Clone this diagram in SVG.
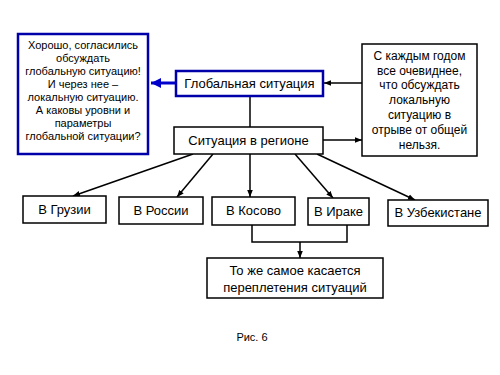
<svg xmlns="http://www.w3.org/2000/svg" width="500" height="375" viewBox="0 0 500 375">
<defs>
<marker id="ah" viewBox="0 0 10 10" refX="10" refY="5" markerWidth="7" markerHeight="7" markerUnits="userSpaceOnUse" orient="auto"><path d="M0,1 L10,5 L0,9 z" fill="#000"/></marker>
<marker id="ahb" viewBox="0 0 10 10" refX="10" refY="5" markerWidth="10" markerHeight="10" markerUnits="userSpaceOnUse" orient="auto"><path d="M0,0 L10,5 L0,10 z" fill="#0000cc"/></marker>
<style>
text{font-family:"Liberation Sans",Arial,sans-serif;fill:#000;text-anchor:middle}
.box{fill:#fff;stroke:#000;stroke-width:1.5}
.bbox{fill:#fff;stroke:#0000aa;stroke-width:2.5}
.c{stroke:#000;stroke-width:1.5;fill:none}
.m{font-size:13px}
.s{font-size:11px}
.r{font-size:12px}
</style>
</defs>
<rect width="500" height="375" fill="#fff"/>
<g id="connectors">
<line class="c" x1="250" y1="96" x2="250" y2="127"/>
<line x1="176" y1="83" x2="151" y2="83" stroke="#0000cc" stroke-width="3" marker-end="url(#ahb)"/>
<line class="c" x1="362" y1="83" x2="324" y2="83" marker-end="url(#ah)"/>
<line class="c" x1="323" y1="140" x2="362" y2="140" marker-end="url(#ah)"/>
<line class="c" x1="193" y1="154" x2="73" y2="196" marker-end="url(#ah)"/>
<line class="c" x1="213" y1="154" x2="177" y2="197" marker-end="url(#ah)"/>
<line class="c" x1="250" y1="154" x2="250" y2="197" marker-end="url(#ah)"/>
<line class="c" x1="295" y1="154" x2="333" y2="198" marker-end="url(#ah)"/>
<line class="c" x1="317" y1="154" x2="415" y2="200" marker-end="url(#ah)"/>
<polyline class="c" points="252,225 252,242 347,242 347,225" stroke-width="2"/>
<line class="c" x1="300" y1="242" x2="300" y2="258" marker-end="url(#ah)"/>
</g>
<g id="n-left">
<rect class="bbox" x="18" y="34" width="130" height="120"/>
<text class="s"><tspan x="83" y="49">Хорошо, согласились</tspan><tspan x="83" y="62">обсуждать</tspan><tspan x="83" y="75">глобальную ситуацию!</tspan><tspan x="83" y="88">И через нее –</tspan><tspan x="83" y="101">локальную ситуацию.</tspan><tspan x="83" y="114">А каковы уровни и</tspan><tspan x="83" y="127">параметры</tspan><tspan x="83" y="140">глобальной ситуации?</tspan></text>
</g>
<g id="n-global">
<rect class="bbox" x="176" y="71" width="147" height="25"/>
<text class="m" x="249.5" y="88">Глобальная ситуация</text>
</g>
<g id="n-right">
<rect class="box" x="362" y="44" width="115" height="112"/>
<text class="r"><tspan x="419.5" y="60">С каждым годом</tspan><tspan x="419.5" y="75">все очевиднее,</tspan><tspan x="419.5" y="89">что обсуждать</tspan><tspan x="419.5" y="104">локальную</tspan><tspan x="419.5" y="119">ситуацию в</tspan><tspan x="419.5" y="134">отрыве от общей</tspan><tspan x="419.5" y="149">нельзя.</tspan></text>
</g>
<g id="n-region">
<rect class="box" x="174" y="127" width="149" height="27"/>
<text class="m" x="248.5" y="145">Ситуация в регионе</text>
</g>
<g id="n-georgia">
<rect class="box" x="23" y="196" width="83" height="27"/>
<text class="m" x="64.5" y="214">В Грузии</text>
</g>
<g id="n-russia">
<rect class="box" x="119" y="197" width="84" height="27"/>
<text class="m" x="161" y="215">В России</text>
</g>
<g id="n-kosovo">
<rect class="box" x="212" y="197" width="83" height="28"/>
<text class="m" x="253.5" y="215">В Косово</text>
</g>
<g id="n-iraq">
<rect class="box" x="308" y="198" width="61" height="27"/>
<text class="m" x="338.5" y="216">В Ираке</text>
</g>
<g id="n-uzbek">
<rect class="box" x="388" y="200" width="100" height="26"/>
<text class="m" x="438" y="217">В Узбекистане</text>
</g>
<g id="n-bottom">
<rect class="box" x="207" y="258" width="176" height="40"/>
<text class="m"><tspan x="295" y="275">То же самое касается</tspan><tspan x="295" y="292">переплетения ситуаций</tspan></text>
</g>
<text x="252" y="341" style="font-size:11px">Рис. 6</text>
</svg>
